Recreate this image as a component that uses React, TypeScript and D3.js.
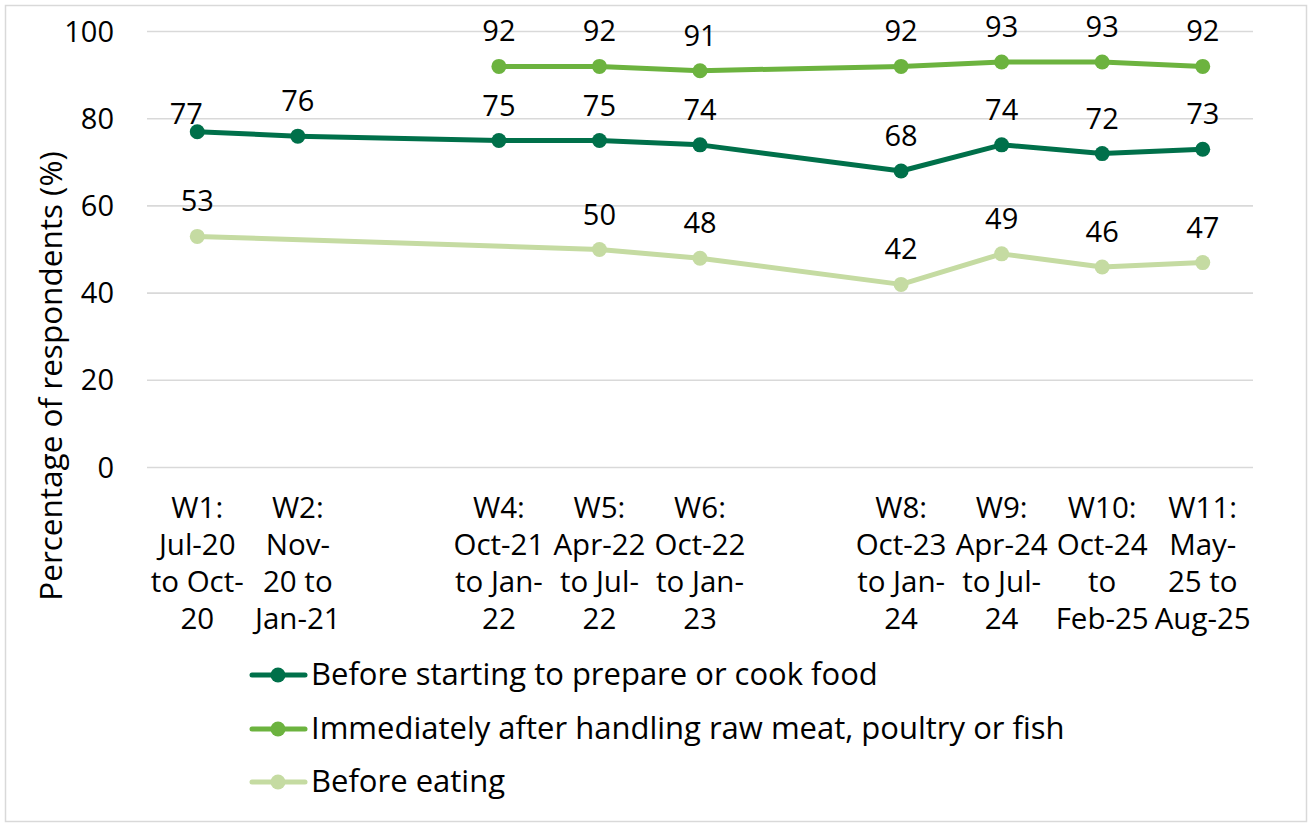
import React from "react";
import * as d3 from "d3";

const categories = ["W1", "W2", "W3", "W4", "W5", "W6", "W7", "W8", "W9", "W10", "W11"];
const xTickLabels: string[][] = [
  ["W1:", "Jul-20", "to Oct-", "20"],
  ["W2:", "Nov-", "20 to", "Jan-21"],
  [],
  ["W4:", "Oct-21", "to Jan-", "22"],
  ["W5:", "Apr-22", "to Jul-", "22"],
  ["W6:", "Oct-22", "to Jan-", "23"],
  [],
  ["W8:", "Oct-23", "to Jan-", "24"],
  ["W9:", "Apr-24", "to Jul-", "24"],
  ["W10:", "Oct-24", "to", "Feb-25"],
  ["W11:", "May-", "25 to", "Aug-25"],
];
const yTicks = [0, 20, 40, 60, 80, 100];

const seriesNames = [
  "Before starting to prepare or cook food",
  "Immediately after handling raw meat, poultry or fish",
  "Before eating",
];
const beforePreparing: (number | null)[] = [77, 76, null, 75, 75, 74, null, 68, 74, 72, 73];
const afterRawMeat: (number | null)[] = [null, null, null, 92, 92, 91, null, 92, 93, 93, 92];
const beforeEating: (number | null)[] = [53, null, null, null, 50, 48, null, 42, 49, 46, 47];
const seriesColors = ["#00704A", "#6CB33F", "#C5DBA2"];

const FONT = "'Open Sans', 'Noto Sans', sans-serif";

export default function App() {
  const W = 1309;
  const H = 824;
  const x = d3.scalePoint<string>().domain(categories).range([147, 1253]).padding(0.5);
  const y = d3.scaleLinear().domain([0, 100]).range([467.5, 31.5]);
  const allSeries = [beforePreparing, afterRawMeat, beforeEating];

  const line = d3
    .line<{ c: string; v: number }>()
    .x((d) => x(d.c) as number)
    .y((d) => y(d.v));

  const legendRows = [675, 729, 782];

  return (
    <div style={{ position: "absolute", left: 0, top: 0 }}>
      <svg width={W} height={H} style={{ display: "block", background: "#fff" }}>
        <rect x={5.5} y={5.5} width={1301} height={816} fill="#fff" stroke="#d9d9d9" strokeWidth={1.5} />
        {yTicks.map((t) => (
          <g key={t}>
            <line x1={147} x2={1253} y1={y(t)} y2={y(t)} stroke="#d9d9d9" strokeWidth={1.6} />
            <text x={114} y={y(t) + 10} textAnchor="end" fontFamily={FONT} fontSize={29} fill="#000">
              {t}
            </text>
          </g>
        ))}
        <text
          transform={`translate(62,376) rotate(-90)`}
          textAnchor="middle"
          fontFamily={FONT}
          fontSize={31.5}
          fill="#000"
        >
          Percentage of respondents (%)
        </text>
        {categories.map((c, i) => (
          <text key={c} textAnchor="middle" fontFamily={FONT} fontSize={29.5} fill="#000">
            {xTickLabels[i].map((ln, j) => (
              <tspan key={j} x={x(c) as number} y={518 + j * 37}>
                {ln}
              </tspan>
            ))}
          </text>
        ))}
        {allSeries.map((vals, si) => {
          const pts = categories
            .map((c, i) => ({ c, v: vals[i] }))
            .filter((d) => d.v !== null) as { c: string; v: number }[];
          return (
            <g key={si}>
              <path
                d={line(pts) || ""}
                fill="none"
                stroke={seriesColors[si]}
                strokeWidth={5}
                strokeLinejoin="round"
                strokeLinecap="round"
              />
              {pts.map((p) => (
                <circle key={p.c} cx={x(p.c) as number} cy={y(p.v)} r={7.5} fill={seriesColors[si]} />
              ))}
              {pts.map((p) => {
                const special = si === 0 && p.c === "W1";
                const dx = special ? -11 : 0;
                const dy = special ? -8 : -25;
                return (
                  <text
                    key={"l" + p.c}
                    x={(x(p.c) as number) + dx}
                    y={y(p.v) + dy}
                    textAnchor="middle"
                    fontFamily={FONT}
                    fontSize={29}
                    fill="#000"
                  >
                    {p.v}
                  </text>
                );
              })}
            </g>
          );
        })}
        {seriesNames.map((n, i) => (
          <g key={n}>
            <line
              x1={252}
              x2={305}
              y1={legendRows[i]}
              y2={legendRows[i]}
              stroke={seriesColors[i]}
              strokeWidth={5}
              strokeLinecap="round"
            />
            <circle cx={278} cy={legendRows[i]} r={7.5} fill={seriesColors[i]} />
            <text x={311} y={legendRows[i] + 10} fontFamily={FONT} fontSize={31} fill="#000">
              {n}
            </text>
          </g>
        ))}
      </svg>
    </div>
  );
}
